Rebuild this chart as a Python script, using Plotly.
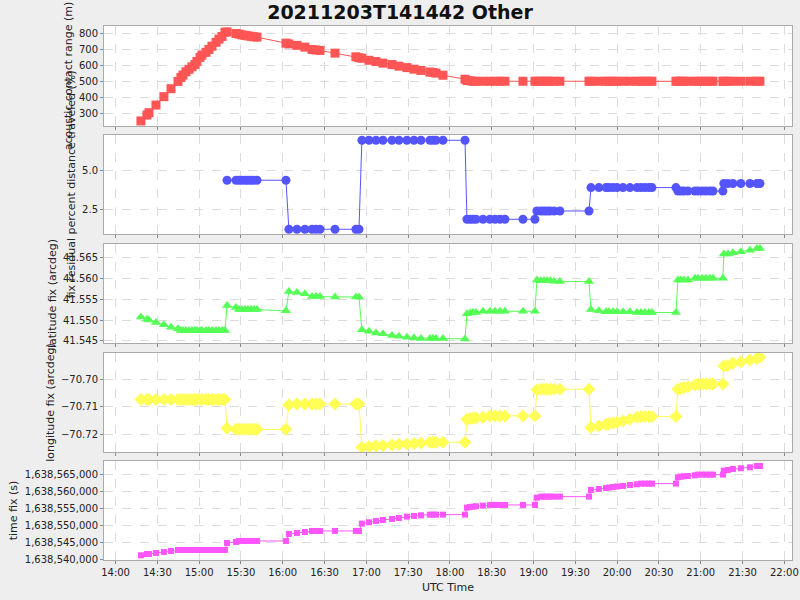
import datetime as dt
import plotly.graph_objects as go
from plotly.subplots import make_subplots

# minutes after 14:00 UTC on 2021-12-03
t_min = [
    18.2, 22.5, 24.0, 29.0, 34.7, 39.8, 44.8, 46.9, 48.4, 50.5, 52.7, 54.8, 57.0, 58.4, 60.6, 62.0, 64.9, 67.0, 69.2, 72.1, 74.2, 76.4, 78.5,
    80.0, 86.4, 88.6, 90.7, 92.9, 95.0, 97.2, 99.3, 101.5, 122.3,
    124.4, 130.2, 135.9, 141.0, 143.8, 146.7, 157.5, 172.5, 174.7,
    176.8, 181.9, 186.9, 191.9, 198.4, 203.4, 209.1, 214.2, 219.2, 225.6, 227.8, 230.0, 235.0, 250.8,
    252.2, 254.4, 256.5, 258.7, 263.7, 268.7, 272.3, 275.9, 279.5, 292.4, 301.0,
    302.4, 305.3, 307.5, 309.6, 311.8, 314.7, 318.9, 339.8,
    341.2, 346.9, 352.0, 354.1, 357.0, 359.9, 364.2, 369.2, 374.2, 377.1, 379.9, 382.8, 385.0, 402.2,
    403.6, 405.8, 407.9, 410.8, 415.8, 418.0, 420.9, 423.7, 426.6, 428.8, 435.9,
    436.6, 439.5, 443.1, 448.8, 455.3, 460.3, 462.5,
]

range_m = [
    250, 287, 302, 350, 403, 453, 499, 524, 539, 560, 575, 591, 606, 625, 650, 665, 682, 700, 721, 745, 765, 782, 808,
    811, 801, 797, 792, 789, 786, 783, 780, 778, 740,
    735, 726, 715, 700, 697, 694, 677, 654, 648,
    645, 632, 624, 614, 605, 595, 586, 576, 568, 558, 555, 551, 538, 513,
    505, 503, 500, 500, 500, 500, 500, 500, 500, 500, 500,
    500, 500, 500, 500, 500, 500, 500, 500,
    500, 500, 500, 500, 500, 500, 500, 500, 500, 500, 500, 500, 500, 500,
    500, 500, 500, 500, 500, 500, 500, 500, 500, 500, 500,
    500, 500, 500, 500, 500, 500, 500,
]

residual_pct = [
    None, None, None, None, None, None, None, None, None, None, None, None, None, None, None, None, None, None, None, None, None, None, None,
    4.36, 4.36, 4.36, 4.36, 4.36, 4.36, 4.36, 4.36, 4.36, 4.36,
    1.22, 1.22, 1.22, 1.22, 1.22, 1.22, 1.22, 1.22, 1.22,
    6.92, 6.92, 6.92, 6.92, 6.92, 6.92, 6.92, 6.92, 6.92, 6.92, 6.92, 6.92, 6.92, 6.92,
    1.86, 1.86, 1.86, 1.86, 1.86, 1.86, 1.86, 1.86, 1.86, 1.86, 1.86,
    2.39, 2.39, 2.39, 2.39, 2.39, 2.39, 2.39, 2.39,
    3.89, 3.89, 3.89, 3.89, 3.89, 3.89, 3.89, 3.89, 3.89, 3.89, 3.89, 3.89, 3.89, 3.89,
    3.67, 3.67, 3.67, 3.67, 3.67, 3.67, 3.67, 3.67, 3.67, 3.67, 3.67,
    4.15, 4.15, 4.15, 4.15, 4.15, 4.15, 4.15,
]

lat_fix = [
    41.5507, 41.5502, 41.5500, 41.5494, 41.5489, 41.5483, 41.5479, 41.5475, 41.5475, 41.5475, 41.5475, 41.5475, 41.5475, 41.5475, 41.5475, 41.5475, 41.5475, 41.5475, 41.5475, 41.5475, 41.5475, 41.5475, 41.5475,
    41.5535, 41.5530, 41.5525, 41.5525, 41.5525, 41.5525, 41.5525, 41.5525, 41.5525, 41.5522,
    41.5568, 41.5566, 41.5563, 41.5556, 41.5556, 41.5556, 41.5555, 41.5555, 41.5555,
    41.5477, 41.5473, 41.5469, 41.5467, 41.5463, 41.5461, 41.5459, 41.5458, 41.5456, 41.5456, 41.5456, 41.5456, 41.5456, 41.5455,
    41.5515, 41.5517, 41.5518, 41.5518, 41.5521, 41.5521, 41.5521, 41.5521, 41.5521, 41.5521, 41.5521,
    41.5596, 41.5594, 41.5594, 41.5594, 41.5594, 41.5593, 41.5592, 41.5592,
    41.5525, 41.5522, 41.5520, 41.5520, 41.5520, 41.5520, 41.5520, 41.5520, 41.5518, 41.5518, 41.5518, 41.5518, 41.5518, 41.5518,
    41.5596, 41.5596, 41.5596, 41.5596, 41.5600, 41.5600, 41.5600, 41.5600, 41.5600, 41.5600, 41.5600,
    41.5658, 41.5658, 41.5661, 41.5663, 41.5667, 41.5671, 41.5671,
]

lon_fix = [
    -70.7073, -70.7073, -70.7073, -70.7073, -70.7073, -70.7073, -70.7073, -70.7073, -70.7073, -70.7073, -70.7073, -70.7073, -70.7073, -70.7073, -70.7073, -70.7073, -70.7073, -70.7073, -70.7073, -70.7073, -70.7073, -70.7073, -70.7073,
    -70.7178, -70.7182, -70.7182, -70.7182, -70.7182, -70.7182, -70.7182, -70.7182, -70.7182, -70.7182,
    -70.7093, -70.7090, -70.7090, -70.7090, -70.7090, -70.7090, -70.7090, -70.7090, -70.7090,
    -70.7247, -70.7245, -70.7242, -70.7241, -70.7239, -70.7236, -70.7235, -70.7233, -70.7232, -70.7229, -70.7229, -70.7229, -70.7229, -70.7229,
    -70.7145, -70.7143, -70.7142, -70.7141, -70.7138, -70.7133, -70.7133, -70.7133, -70.7133, -70.7133, -70.7133,
    -70.7039, -70.7036, -70.7036, -70.7036, -70.7036, -70.7036, -70.7036, -70.7036,
    -70.7175, -70.7170, -70.7164, -70.7162, -70.7159, -70.7156, -70.7152, -70.7145, -70.7138, -70.7135, -70.7135, -70.7135, -70.7135, -70.7135,
    -70.7036, -70.7033, -70.7030, -70.7027, -70.7021, -70.7017, -70.7017, -70.7017, -70.7017, -70.7017, -70.7017,
    -70.6952, -70.6950, -70.6942, -70.6937, -70.6930, -70.6924, -70.6920,
]

time_fix = [
    1638541176, 1638541569, 1638541569, 1638541863, 1638542157, 1638542451, 1638542745, 1638542745, 1638542745, 1638542745, 1638542745, 1638542745, 1638542745, 1638542745, 1638542745, 1638542745, 1638542745, 1638542745, 1638542745, 1638542745, 1638542745, 1638542745, 1638542745,
    1638544804, 1638545098, 1638545392, 1638545392, 1638545392, 1638545392, 1638545392, 1638545392, 1638545392, 1638545392,
    1638547451, 1638547745, 1638548039, 1638548333, 1638548333, 1638548333, 1638548333, 1638548333, 1638548333,
    1638550490, 1638550882, 1638551275, 1638551569, 1638551863, 1638552157, 1638552549, 1638552745, 1638552941, 1638553137, 1638553137, 1638553137, 1638553137, 1638553137,
    1638555196, 1638555392, 1638555490, 1638555588, 1638555784, 1638555980, 1638555980, 1638555980, 1638555980, 1638555980, 1638555980,
    1638558137, 1638558431, 1638558431, 1638558431, 1638558431, 1638558431, 1638558431, 1638558431,
    1638560392, 1638560686, 1638560980, 1638561100, 1638561274, 1638561400, 1638561569, 1638561863, 1638562059, 1638562255, 1638562255, 1638562255, 1638562255, 1638562255,
    1638564118, 1638564314, 1638564410, 1638564510, 1638564706, 1638564902, 1638564902, 1638564902, 1638564902, 1638564902, 1638564902,
    1638566078, 1638566274, 1638566569, 1638566765, 1638567059, 1638567451, 1638567451,
]

y_titles = [
    "acoustic contact range (m)",
    "fix residual percent distance traveled (%)",
    "latitude fix (arcdeg)",
    "longitude fix (arcdeg)",
    "time fix (s)",
]

base = dt.datetime(2021, 12, 3, 14, 0, 0)
times = [base + dt.timedelta(minutes=m) for m in t_min]

FONT = "DejaVu Sans"
fig = make_subplots(rows=5, cols=1, shared_xaxes=True, vertical_spacing=0.02)

series = [
    (range_m, "#ff5555", "square", 9),
    (residual_pct, "#5555ff", "circle", 9),
    (lat_fix, "#55ff55", "triangle-up", 9),
    (lon_fix, "#ffff55", "diamond", 10),
    (time_fix, "#ff55ff", "square", 6),
]
for i, (vals, col, sym, sz) in enumerate(series):
    fig.add_trace(go.Scatter(
        x=times, y=vals, mode="lines+markers",
        line=dict(color=col, width=1),
        marker=dict(color=col, symbol=sym, size=sz, line=dict(width=0)),
        showlegend=False, connectgaps=False,
    ), row=i + 1, col=1)

domains = [(0.8127, 1.0), (0.6105, 0.7959), (0.4064, 0.5918), (0.2022, 0.3876), (0.0, 0.1854)]
yranges = [(218, 848), (0.917, 7.26), (41.54452, 41.56818), (-70.72644, -70.69044), (1638539794, 1638568912)]
ydticks = [100, 2.5, 0.005, 0.01, 5000]
yfmts = ["d", ".1f", ".3f", ".2f", ",d"]

axcommon = dict(
    showline=True, linecolor="#aaaaaa", linewidth=1, mirror=True,
    showgrid=True, gridcolor="#dcdcdc", griddash="dash", gridwidth=1,
    ticks="outside", ticklen=3, tickcolor="#888888",
    tickfont=dict(family=FONT, size=10, color="#222222"),
    zeroline=False, automargin=False,
)

for i in range(5):
    n = "" if i == 0 else str(i + 1)
    fig.layout["yaxis" + n].update(
        domain=list(domains[i]), range=list(yranges[i]), dtick=ydticks[i],
        tickformat=yfmts[i],
        title=dict(text=y_titles[i], font=dict(family=FONT, size=11, color="#222222"), standoff=4),
        **axcommon,
    )
    fig.layout["xaxis" + n].update(
        range=[base + dt.timedelta(minutes=-8.3), base + dt.timedelta(minutes=485.5)],
        dtick=30 * 60 * 1000, tick0=base, tickformat="%H:%M",
        **axcommon,
    )

fig.layout.xaxis5.update(title=dict(text="UTC Time", font=dict(family=FONT, size=11, color="#222222"), standoff=6))

fig.update_layout(
    width=800, height=600,
    margin=dict(l=104, r=8, t=26, b=40, autoexpand=False),
    paper_bgcolor="#eeeeee", plot_bgcolor="#ffffff",
    title=dict(text="<b>20211203T141442 Other</b>", x=0.5, xanchor="center", y=0.98, yanchor="middle",
               yref="container", font=dict(family=FONT, size=19, color="#111111")),
    font=dict(family=FONT),
)

fig.write_html("out.html", config={"displayModeBar": False},
               post_script="document.body.style.margin='0';")
